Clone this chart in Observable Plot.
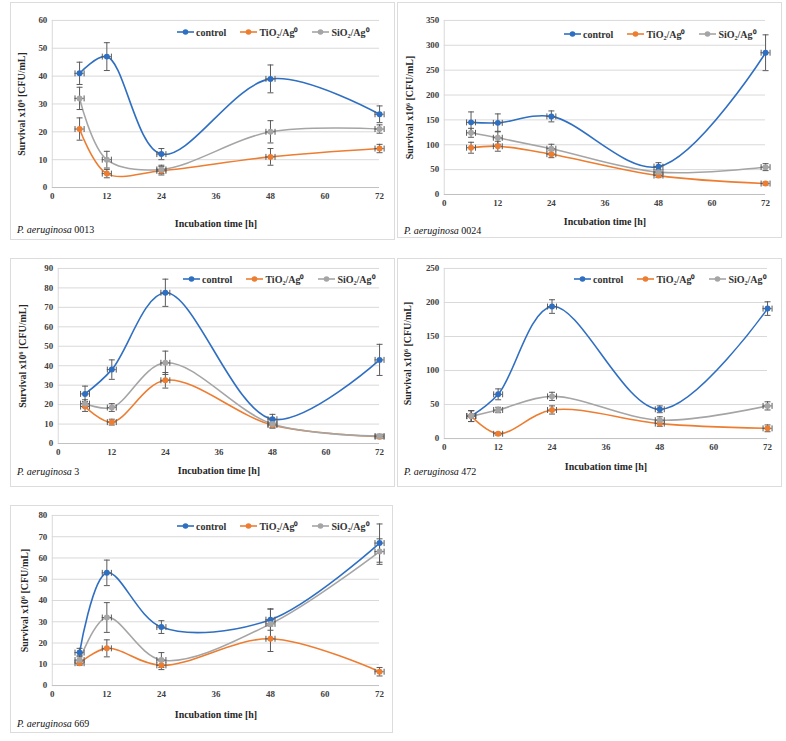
<!DOCTYPE html>
<html>
<head>
<meta charset="utf-8">
<script src="https://cdn.jsdelivr.net/npm/d3@7"></script>
<script src="https://cdn.jsdelivr.net/npm/@observablehq/plot@0.6"></script>
<style>
  html, body { margin: 0; padding: 0; background: #fff; }
  #root { position: relative; width: 786px; height: 741px; background: #fff; overflow: hidden; }
  .frame { position: absolute; box-sizing: border-box; border: 1px solid #dcdcdc; background: #fff; }
  .frame svg { position: absolute; left: 0; top: 0; }
  .legend { position: absolute; display: flex; align-items: center; font-family: 'Liberation Serif', 'Times New Roman', serif; font-weight: bold; font-size: 10px; color: #333; white-space: nowrap; }
  .legend .item { display: flex; align-items: center; margin-right: 14px; }
  .legend .item:last-child { margin-right: 0; }
  .legend svg { position: static; margin-right: 2px; }
  .caption { position: absolute; font-family: 'Liberation Serif', 'Times New Roman', serif; font-size: 10px; color: #111; white-space: nowrap; transform: translateY(-50%); }
</style>
</head>
<body>
<div id="root"></div>
<script>
// ---------- data ----------
const hours = [6, 12, 24, 48, 72];
const xTicks = [0, 12, 24, 36, 48, 60, 72];
const seriesNames = ["control", "TiO₂/Ag⁰", "SiO₂/Ag⁰"];
const strainNames = ["0013", "0024", "3", "472", "669"];
const yMax = [60, 350, 90, 250, 80];
const yStep = [10, 50, 10, 50, 10];
const hourError = 1;

// P. aeruginosa 0013
const control0013 = [41, 47, 12, 39, 26.3];
const controlErr0013 = [4, 5, 2, 5, 3];
const tio0013 = [21, 5, 6, 11, 14];
const tioErr0013 = [4, 1.5, 1.5, 3, 1.5];
const sio0013 = [32, 10, 6.5, 20, 21];
const sioErr0013 = [4, 3, 1.5, 4, 1.5];

// P. aeruginosa 0024
const control0024 = [145, 144, 157, 56, 285];
const controlErr0024 = [21, 18, 11, 8, 36];
const tio0024 = [94, 97, 81, 38, 22];
const tioErr0024 = [11, 10, 7, 4, 3];
const sio0024 = [124, 114, 92, 45, 55];
const sioErr0024 = [9, 13, 9, 5, 7];

// P. aeruginosa 3
const control3 = [25.5, 38, 77.5, 12.5, 43];
const controlErr3 = [4, 5, 7, 2.5, 8];
const tio3 = [19, 11, 32.5, 9.5, 3.5];
const tioErr3 = [2.5, 1.5, 4, 1.5, 1];
const sio3 = [20.5, 18.5, 41.5, 10, 3.8];
const sioErr3 = [2, 2, 6, 2, 1];

// P. aeruginosa 472
const control472 = [33, 65, 194, 43, 191];
const controlErr472 = [8, 8, 10, 5, 10];
const tio472 = [33, 7, 42, 22, 15];
const tioErr472 = [8, 2, 6, 4, 5];
const sio472 = [33, 42, 62, 27, 48];
const sioErr472 = [8, 4, 6, 5, 6];

// P. aeruginosa 669
const control669 = [15.5, 53, 27.5, 31, 67];
const controlErr669 = [2, 6, 3, 5, 9];
const tio669 = [10.5, 17.5, 9.5, 22, 6.5];
const tioErr669 = [1, 4, 2, 6, 2];
const sio669 = [12, 32, 12, 29, 63];
const sioErr669 = [2, 7, 3.5, 7, 6];

const values = [
  [control0013, tio0013, sio0013],
  [control0024, tio0024, sio0024],
  [control3, tio3, sio3],
  [control472, tio472, sio472],
  [control669, tio669, sio669]
];
const errors = [
  [controlErr0013, tioErr0013, sioErr0013],
  [controlErr0024, tioErr0024, sioErr0024],
  [controlErr3, tioErr3, sioErr3],
  [controlErr472, tioErr472, sioErr472],
  [controlErr669, tioErr669, sioErr669]
];

// ---------- styles / layout ----------
const colors = ["#2f6fc2", "#ed7d31", "#a5a5a5"];
const errColor = "#595959";
const layout = [
  {l: 10,  t: 2,   w: 385, h: 238, ml: 41, mr: 15, mt: 17, mb: 53, ylo: 35, xlo: 40, legX: 166, legY: 29, capY: 226},
  {l: 397, t: 2,   w: 385, h: 236, ml: 46, mr: 16, mt: 17, mb: 44, ylo: 39, xlo: 31, legX: 166, legY: 31, capY: 227},
  {l: 10,  t: 258, w: 385, h: 229, ml: 47, mr: 15, mt: 9,  mb: 44, ylo: 40, xlo: 31, legX: 172, legY: 20, capY: 212},
  {l: 397, t: 258, w: 385, h: 229, ml: 46, mr: 14, mt: 9,  mb: 49, ylo: 41, xlo: 32, legX: 176, legY: 20, capY: 212},
  {l: 10,  t: 505, w: 383, h: 228, ml: 41, mr: 13, mt: 9,  mb: 48, ylo: 32, xlo: 33, legX: 166, legY: 20, capY: 217}
];

const hcap = {draw(ctx, size) { const r = Math.sqrt(size / Math.PI); ctx.moveTo(-r, 0); ctx.lineTo(r, 0); }};
const vcap = {draw(ctx, size) { const r = Math.sqrt(size / Math.PI); ctx.moveTo(0, -r); ctx.lineTo(0, r); }};

const root = document.getElementById("root");

strainNames.forEach((strain, i) => {
  const L = layout[i];
  const rows = [];
  seriesNames.forEach((s, k) => {
    hours.forEach((h, j) => rows.push({series: s, hour: h, value: values[i][k][j], err: errors[i][k][j]}));
  });
  const yTicks = d3.range(0, yMax[i] + 1e-9, yStep[i]);

  const chart = Plot.plot({
    width: L.w, height: L.h,
    marginLeft: L.ml, marginRight: L.mr, marginTop: L.mt, marginBottom: L.mb,
    style: {fontFamily: "'Liberation Serif', 'Times New Roman', serif", fontSize: "9px", fontWeight: "bold", color: "#404040", background: "transparent", overflow: "visible"},
    x: {domain: [0, 72]},
    y: {domain: [0, yMax[i]]},
    color: {domain: seriesNames, range: colors},
    marks: [
      Plot.gridY(yTicks.filter(v => v > 0), {stroke: "#d9d9d9", strokeOpacity: 1}),
      Plot.ruleX([0], {stroke: "#d9d9d9"}),
      Plot.ruleY([0], {stroke: "#bfbfbf"}),
      Plot.axisX(xTicks, {tickSize: 0, tickPadding: 5, label: null, fontSize: 9}),
      Plot.axisY(yTicks, {tickSize: 0, tickPadding: 5, label: null, fontSize: 9}),
      Plot.axisX([], {tickSize: 0, label: "Incubation time [h]", labelAnchor: "center", labelArrow: "none", labelOffset: L.xlo, fontSize: 10, fill: "#262626"}),
      Plot.axisY([], {tickSize: 0, label: "Survival x10⁶ [CFU/mL]", labelAnchor: "center", labelArrow: "none", labelOffset: L.ylo, fontSize: 10, fill: "#262626"}),
      Plot.line(rows, {x: "hour", y: "value", z: "series", stroke: "series", curve: "catmull-rom", strokeWidth: 1.6}),
      Plot.ruleX(rows, {x: "hour", y1: d => d.value - d.err, y2: d => d.value + d.err, stroke: errColor, strokeWidth: 1}),
      Plot.ruleY(rows, {y: "value", x1: d => d.hour - hourError, x2: d => d.hour + hourError, stroke: errColor, strokeWidth: 1}),
      Plot.dot(rows, {x: "hour", y: d => d.value + d.err, symbol: hcap, r: 3, stroke: errColor, fill: "none", strokeWidth: 1}),
      Plot.dot(rows, {x: "hour", y: d => d.value - d.err, symbol: hcap, r: 3, stroke: errColor, fill: "none", strokeWidth: 1}),
      Plot.dot(rows, {x: d => d.hour - hourError, y: "value", symbol: vcap, r: 3, stroke: errColor, fill: "none", strokeWidth: 1}),
      Plot.dot(rows, {x: d => d.hour + hourError, y: "value", symbol: vcap, r: 3, stroke: errColor, fill: "none", strokeWidth: 1}),
      Plot.dot(rows, {x: "hour", y: "value", fill: "series", r: 3})
    ]
  });

  const frame = document.createElement("div");
  frame.className = "frame";
  Object.assign(frame.style, {left: L.l + "px", top: L.t + "px", width: L.w + "px", height: L.h + "px"});
  frame.appendChild(chart);

  // legend
  const leg = document.createElement("div");
  leg.className = "legend";
  Object.assign(leg.style, {left: L.legX + "px", top: (L.legY - 6) + "px", height: "12px"});
  seriesNames.forEach((s, k) => {
    const item = document.createElement("span");
    item.className = "item";
    item.innerHTML = `<svg width="17" height="8"><line x1="0" x2="17" y1="4" y2="4" stroke="${colors[k]}" stroke-width="1.6"/><circle cx="8.5" cy="4" r="2.8" fill="${colors[k]}"/></svg><span>${s}</span>`;
    leg.appendChild(item);
  });
  frame.appendChild(leg);

  // caption
  const cap = document.createElement("div");
  cap.className = "caption";
  Object.assign(cap.style, {left: "6px", top: L.capY + "px"});
  cap.innerHTML = `<i>P. aeruginosa</i> ${strain}`;
  frame.appendChild(cap);

  root.appendChild(frame);
});
</script>
</body>
</html>
